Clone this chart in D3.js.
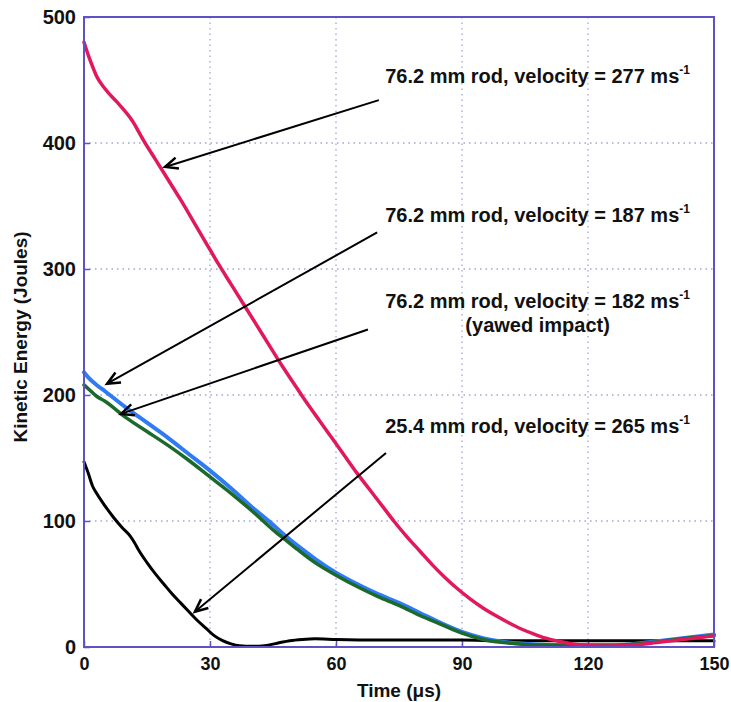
<!DOCTYPE html>
<html>
<head>
<meta charset="utf-8">
<script src="https://cdn.jsdelivr.net/npm/d3@7"></script>
<style>
  body { margin: 0; background: #fff; }
  svg { display: block; font-family: "Liberation Sans", Arial, sans-serif; }
</style>
</head>
<body>
<div id="chart"></div>
<script>
// tick labels
var x_ticks = [0, 30, 60, 90, 120, 150];
var y_ticks = [0, 100, 200, 300, 400, 500];

// 76.2 mm rod, 277 m/s
var time_277   = [0, 1, 2, 3, 5, 8, 11, 12, 13, 14, 17, 20, 23, 26, 29, 32, 35, 38, 41, 44, 47, 50, 53, 56, 59, 62, 65, 68, 71, 74, 77, 80, 83, 86, 89, 92, 95, 98, 101, 104, 107, 110, 113, 116, 120, 125, 130, 135, 140, 145, 150];
var energy_277 = [480, 470, 461, 453, 443, 432, 420, 415, 409, 403, 387, 371, 355, 338, 321, 304, 288, 272, 256, 240, 224, 209, 194, 180, 166, 152, 138, 125, 112, 99, 87, 76, 65, 55, 46, 38, 31, 25, 19.5, 14.5, 10.5, 7, 4.5, 2.5, 1.2, 0.8, 1.5, 3, 5, 7, 9];

// 76.2 mm rod, 187 m/s
var time_187   = [0, 1, 3, 5, 10, 15, 20, 25, 30, 35, 40, 45, 48, 51, 55, 60, 65, 70, 75, 80, 85, 90, 95, 100, 105, 110, 115, 120, 125, 130, 135, 140, 145, 150];
var energy_187 = [218, 214, 208, 203, 190, 178, 166, 153, 140, 126, 111, 97, 88, 80, 70, 59, 50, 42, 35, 27, 19, 12, 7, 4, 2.5, 1.5, 1, 1, 1, 2, 4, 6, 8, 10];

// 76.2 mm rod, 182 m/s (yawed impact)
var time_182   = [0, 1, 3, 5, 10, 15, 20, 25, 30, 35, 40, 45, 48, 51, 55, 60, 65, 70, 75, 80, 85, 90, 95, 100, 105, 110, 115, 120, 125, 130, 135, 140, 145, 150];
var energy_182 = [208, 205, 199, 195, 182, 171, 160, 148, 135, 122, 108, 93, 85, 77, 67, 57, 48, 40, 33, 25, 18, 11, 6, 3.5, 2, 1.5, 1.5, 1.5, 1.5, 2, 3.5, 5.5, 7.5, 9];

// 25.4 mm rod, 265 m/s
var time_265   = [0, 1, 2, 3, 5, 7, 9, 11, 12, 13, 15, 17, 19, 21, 23, 25, 27, 29, 31, 33, 35, 37, 40, 43, 46, 49, 52, 55, 60, 70, 80, 90, 100, 110, 120, 130, 140, 150];
var energy_265 = [147, 138, 128, 122, 112, 103, 95, 88, 83, 77, 67, 58, 50, 42, 35, 28, 21, 15, 9, 5, 2.5, 1, 0.5, 1, 3, 5, 6, 6.5, 6, 5.5, 5.5, 5.5, 5, 5, 5, 5, 5, 5];

// annotation texts
var label_main  = ["76.2 mm rod, velocity = 277 ms", "76.2 mm rod, velocity = 187 ms", "76.2 mm rod, velocity = 182 ms", "25.4 mm rod, velocity = 265 ms"];
var label_extra = ["", "", "(yawed impact)", ""];
// text anchor (time, energy) and arrow tail / tip in data units
var label_at    = [[108, 448], [108, 337], [108, 269], [108, 170]];
var arrow_from  = [[70.2, 434], [69.8, 329], [67.6, 252], [71.9, 154]];
var arrow_to    = [[19.3, 381], [5.5, 209], [8.8, 185], [26.4, 28]];

var W = 731, H = 702;
var plot = { left: 84, right: 714, top: 17, bottom: 647 };

var frame_color = '#5f51c6';
var grid_color = '#a3a3d8';

var svg = d3.select('#chart')
  .append('svg')
  .attr('width', W)
  .attr('height', H);

var x = d3.scaleLinear().domain([0, 150]).range([plot.left, plot.right]);
var y = d3.scaleLinear().domain([0, 500]).range([plot.bottom, plot.top]);

// grid
svg.append('g').selectAll('line')
  .data(x_ticks.slice(1, -1))
  .enter().append('line')
  .attr('x1', function(d) { return x(d); })
  .attr('x2', function(d) { return x(d); })
  .attr('y1', plot.top)
  .attr('y2', plot.bottom)
  .attr('stroke', grid_color)
  .attr('stroke-width', 1.3)
  .attr('stroke-dasharray', '1.5,4');

svg.append('g').selectAll('line')
  .data(y_ticks.slice(1, -1))
  .enter().append('line')
  .attr('x1', plot.left)
  .attr('x2', plot.right)
  .attr('y1', function(d) { return y(d); })
  .attr('y2', function(d) { return y(d); })
  .attr('stroke', grid_color)
  .attr('stroke-width', 1.3)
  .attr('stroke-dasharray', '1.5,4');

// axes, ticks point inward
var x_axis = svg.append('g')
  .attr('transform', 'translate(0,' + plot.bottom + ')')
  .call(d3.axisBottom(x).tickValues(x_ticks).tickSize(-6).tickPadding(10));
var y_axis = svg.append('g')
  .attr('transform', 'translate(' + plot.left + ',0)')
  .call(d3.axisLeft(y).tickValues(y_ticks).tickSize(-6).tickPadding(8));

[x_axis, y_axis].forEach(function(ax) {
  ax.select('.domain').remove();
  ax.selectAll('.tick line').attr('stroke', frame_color).attr('stroke-width', 1.5);
  ax.selectAll('.tick text')
    .attr('fill', '#111')
    .style('font-family', '"Liberation Sans", Arial, sans-serif')
    .style('font-weight', 'bold')
    .style('font-size', '18px');
});
y_axis.selectAll('.tick text').style('font-size', '20px');

// series
var series = [
  { t: time_265, e: energy_265, color: '#000000', width: 3 },
  { t: time_187, e: energy_187, color: '#2f7bf2', width: 4 },
  { t: time_182, e: energy_182, color: '#1c6a2b', width: 3.5 },
  { t: time_277, e: energy_277, color: '#e2185b', width: 3.5 }
];

var line = d3.line()
  .x(function(d) { return x(d[0]); })
  .y(function(d) { return y(d[1]); })
  .curve(d3.curveMonotoneX);

series.forEach(function(s) {
  var pts = s.t.map(function(t, i) { return [t, s.e[i]]; });
  svg.append('path')
    .datum(pts)
    .attr('d', line)
    .attr('fill', 'none')
    .attr('stroke', s.color)
    .attr('stroke-width', s.width)
    .attr('stroke-linejoin', 'round')
    .attr('stroke-linecap', 'round');
});

// frame
svg.append('rect')
  .attr('x', plot.left)
  .attr('y', plot.top)
  .attr('width', plot.right - plot.left)
  .attr('height', plot.bottom - plot.top)
  .attr('fill', 'none')
  .attr('stroke', frame_color)
  .attr('stroke-width', 2);

// arrows
arrow_from.forEach(function(p, i) {
  var x1 = x(p[0]), y1 = y(p[1]);
  var x2 = x(arrow_to[i][0]), y2 = y(arrow_to[i][1]);
  var ang = Math.atan2(y2 - y1, x2 - x1);
  var len = 14, spread = 0.42;

  svg.append('line')
    .attr('x1', x1).attr('y1', y1)
    .attr('x2', x2).attr('y2', y2)
    .attr('stroke', '#000')
    .attr('stroke-width', 2);

  svg.append('path')
    .attr('d', 'M' + (x2 - len * Math.cos(ang - spread)) + ',' + (y2 - len * Math.sin(ang - spread)) +
      'L' + x2 + ',' + y2 +
      'L' + (x2 - len * Math.cos(ang + spread)) + ',' + (y2 - len * Math.sin(ang + spread)))
    .attr('fill', 'none')
    .attr('stroke', '#000')
    .attr('stroke-width', 2.5)
    .attr('stroke-linejoin', 'miter');
});

// labels
label_main.forEach(function(txt, i) {
  var t = svg.append('text')
    .attr('x', x(label_at[i][0]))
    .attr('y', y(label_at[i][1]))
    .attr('text-anchor', 'middle')
    .attr('fill', '#111')
    .style('font-weight', 'bold')
    .style('font-size', '20px');
  t.append('tspan').text(txt);
  t.append('tspan')
    .attr('dy', -9)
    .style('font-size', '12px')
    .text('-1');

  if (label_extra[i] != '') {
    svg.append('text')
      .attr('x', x(label_at[i][0]))
      .attr('y', y(label_at[i][1]) + 24)
      .attr('text-anchor', 'middle')
      .attr('fill', '#111')
      .style('font-weight', 'bold')
      .style('font-size', '20px')
      .text(label_extra[i]);
  }
});

// axis titles
svg.append('text')
  .attr('x', (plot.left + plot.right) / 2)
  .attr('y', 697)
  .attr('text-anchor', 'middle')
  .attr('fill', '#111')
  .style('font-weight', 'bold')
  .style('font-size', '19px')
  .text('Time (\u03bcs)');

svg.append('text')
  .attr('transform', 'translate(27,337) rotate(-90)')
  .attr('text-anchor', 'middle')
  .attr('fill', '#111')
  .style('font-weight', 'bold')
  .style('font-size', '19px')
  .text('Kinetic Energy (Joules)');
</script>
</body>
</html>
